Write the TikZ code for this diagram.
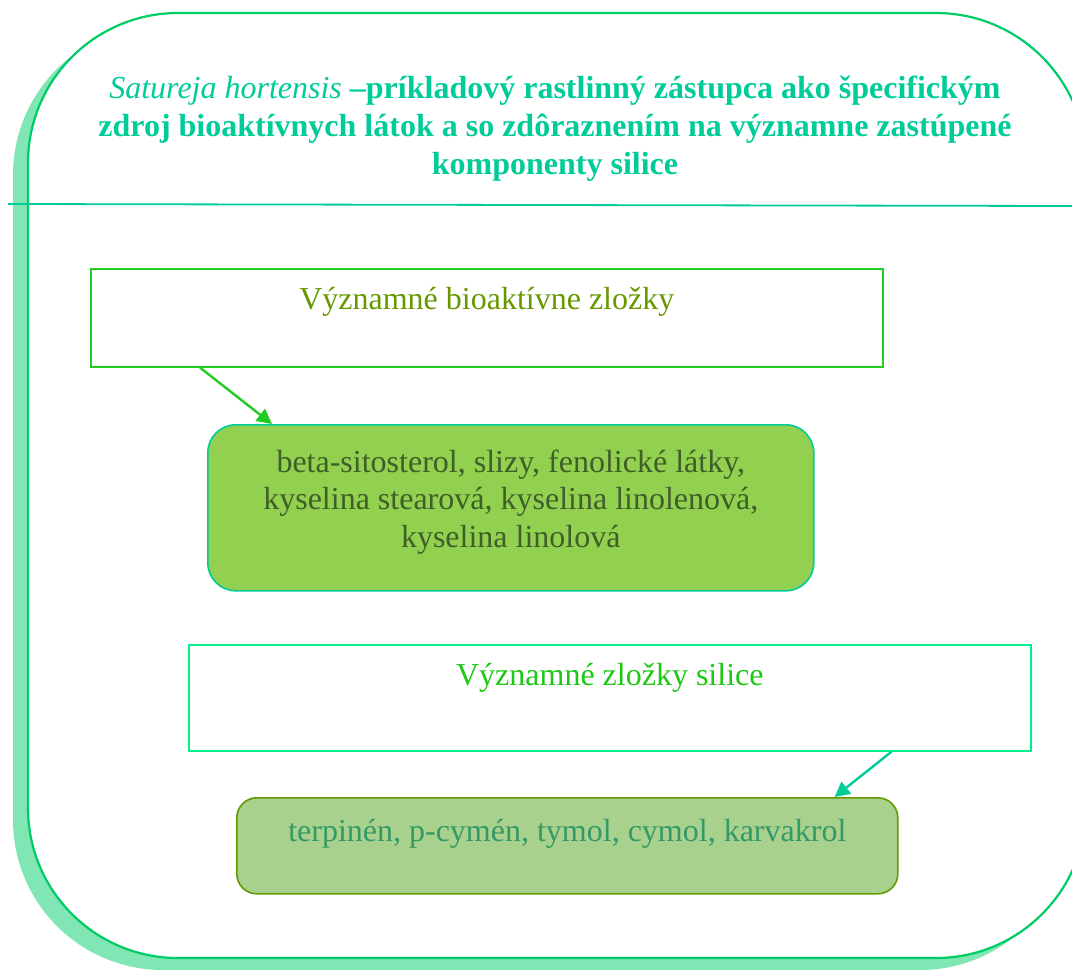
\documentclass[tikz,border=0pt]{standalone}
\usepackage{fontspec}
\setmainfont{Liberation Serif}
\usetikzlibrary{arrows.meta,calc}
\definecolor{frameline}{HTML}{00CC66}
\definecolor{frameshadow}{HTML}{80E6B3}
\definecolor{titlecol}{HTML}{00CC99}
\definecolor{rulecol}{HTML}{00CC99}
\definecolor{olive}{HTML}{669900}
\definecolor{leafgreen}{HTML}{92D050}
\definecolor{sagegreen}{HTML}{A9D18E}
\definecolor{darkolive}{HTML}{3F5F28}
\definecolor{brightgreen}{HTML}{1EC814}
\definecolor{mint}{HTML}{00F08C}
\definecolor{seagreen}{HTML}{339966}
\definecolor{arrowgreen}{HTML}{22CC22}
\tikzset{
  x=1pt, y=-1pt,
  headbox/.style={draw, line width=1.6pt, fill=white, inner sep=0pt, anchor=north west},
  itembox/.style={draw, line width=1.6pt, rounded corners=28pt, inner sep=0pt, anchor=north west},
  boxtext/.style={font=\fontsize{32}{37.5}\selectfont, align=center, inner sep=0pt},
  linkarrow/.style={line width=2.4pt, -{Triangle[length=15pt,width=15pt]}},
}
\begin{document}
\begin{tikzpicture}
\useasboundingbox (0,0) rectangle (1072,970);
\clip (0,0) rectangle (1072,970);
% outer frame with its offset shadow
\fill[frameshadow, rounded corners=150pt] (13,25) rectangle (1070,970);
\draw[frameline, line width=2.2pt, fill=white, rounded corners=150pt] (28,13) rectangle (1086,958);
% rule under the title
\draw[rulecol, line width=1.8pt] (8,204) -- (1072,206);
% title
\node (title) [text=titlecol, font=\fontsize{32}{38}\selectfont\bfseries, align=center, inner sep=0pt] at (555,129)
  {\textit{\mdseries Satureja hortensis} \textendash príkladový rastlinný zástupca ako špecifickým\\
   zdroj bioaktívnych látok a so zdôraznením na významne zastúpené\\
   komponenty silice};
% first group
\node (b1) [headbox, draw=arrowgreen, minimum width=792pt, minimum height=98pt] at (90,268) {};
\node (t1) [boxtext, text=olive, anchor=center] at ($(b1.north)+(0,34)$) {Významné bioaktívne zložky};
\node (b2) [itembox, draw=rulecol, fill=leafgreen, minimum width=606pt, minimum height=166pt] at (207,424) {};
\node (t2) [boxtext, text=darkolive] at ($(b2.center)+(0,-6)$)
  {beta-sitosterol, slizy, fenolické látky,\\ kyselina stearová, kyselina linolenová,\\ kyselina linolová};
% second group
\node (b3) [headbox, draw=mint, minimum width=842pt, minimum height=106pt] at (188,644) {};
\node (t3) [boxtext, text=brightgreen, anchor=center] at ($(b3.north)+(0,34)$) {Významné zložky silice};
\node (b4) [itembox, draw=olive, fill=sagegreen, rounded corners=20pt, minimum width=661pt, minimum height=96pt] at (236,797) {};
\node (t4) [boxtext, text=seagreen, anchor=center] at ($(b4.north)+(0,37)$) {terpinén, p-cymén, tymol, cymol, karvakrol};
% connectors
\coordinate (a1) at ($(b1.south west)+(110,0)$);
\coordinate (a2) at ($(b2.north west)+(65,0)$);
\coordinate (a3) at ($(b3.south east)+(-140,0)$);
\coordinate (a4) at ($(b4.north east)+(-64,0)$);
\draw[linkarrow, arrowgreen] (a1) -- (a2);
\draw[linkarrow, rulecol] (a3) -- (a4);
\end{tikzpicture}
\end{document}
